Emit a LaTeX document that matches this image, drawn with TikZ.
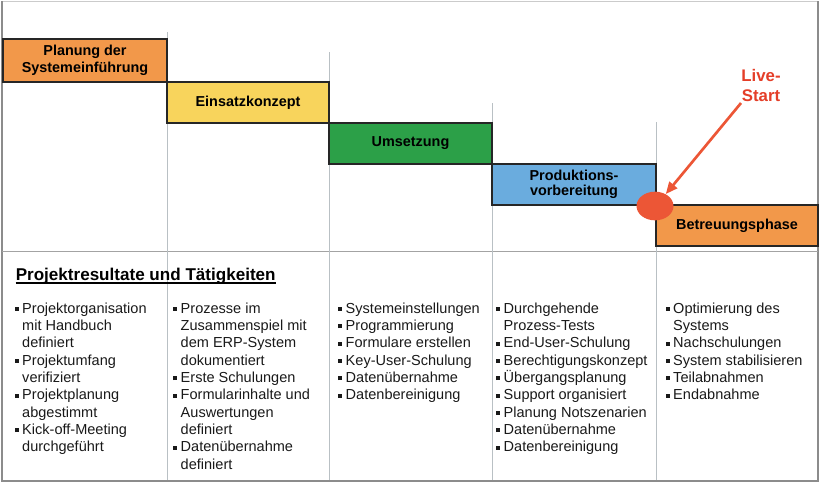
\documentclass[tikz,border=0pt]{standalone}
\usepackage{fontspec}
\setmainfont{Liberation Sans}
\usetikzlibrary{shapes.geometric,arrows.meta}

\definecolor{phOrange}{RGB}{242,152,74}
\definecolor{phYellow}{RGB}{248,212,92}
\definecolor{phGreen}{RGB}{44,160,72}
\definecolor{phBlue}{RGB}{106,172,222}
\definecolor{liveRed}{RGB}{236,86,54}
\definecolor{liveText}{RGB}{228,62,40}
\definecolor{frameGray}{RGB}{140,140,140}
\definecolor{gridGray}{RGB}{185,192,196}

% square bullet and matching hanging indent
\newcommand\itm{\makebox[5.6pt][l]{\rule[0.17em]{0.26em}{0.26em}}}
\newcommand\ind{\hspace*{5.6pt}}

\begin{document}
\begin{tikzpicture}[x=0.75pt,y=-0.75pt,
  phase/.style={draw=black!85, line width=2pt, inner sep=0pt, align=center,
    font=\fontsize{10.8}{12.8}\selectfont\bfseries},
  gridline/.style={draw=gridGray, line width=0.7pt},
  bullets/.style={anchor=north west, inner sep=0pt, align=left,
    font=\fontsize{10.9}{13}\selectfont, text=black!90},
  livearrow/.style={draw=liveRed, line width=2pt,
    -{Triangle[length=9pt,width=7.5pt]}}]

\useasboundingbox (0,0) rectangle (820,487);

% outer frame and divider between phases and results
\draw[frameGray!45, line width=1pt] (2,1.5) -- (818,1.5);
\draw[frameGray, line width=2pt] (2,1) -- (2,481) -- (818,481) -- (818,1);
\draw[frameGray!80, line width=1.2pt] (2,251.5) -- (818,251.5);

% column separators
\draw[gridline] (167,32) -- (167,480);
\draw[gridline] (329.5,52) -- (329.5,480);
\draw[gridline] (492,103) -- (492,480);
\draw[gridline] (656,122) -- (656,480);

% phase boxes (staircase)
\node[phase, fill=phOrange, minimum width=123pt, minimum height=32.25pt] (p1) at (85,60.5) {\raisebox{-1.2pt}{\shortstack{Planung der\\Systemeinführung}}};
\node[phase, fill=phYellow, minimum width=121.5pt, minimum height=30.75pt] (p2) at (248,102.5) {Einsatzkonzept};
\node[phase, fill=phGreen, minimum width=122.25pt, minimum height=30.75pt] (p3) at (410.5,143.5) {Umsetzung};
\node[phase, fill=phBlue, minimum width=123pt, minimum height=30.75pt] (p4) at (574,184.5) {\raisebox{-0.8pt}{\shortstack{Produktions-\\vorbereitung}}};
\node[phase, fill=phOrange, minimum width=121.5pt, minimum height=30.75pt] (p5) at (737,225.5) {Betreuungsphase};

% go-live marker
\node[ellipse, fill=liveRed, inner sep=0pt, minimum width=27.75pt, minimum height=21.5pt] (live) at (655,206) {};
\node[align=center, inner sep=0pt, text=liveText,
  font=\fontsize{12.6}{15}\selectfont\bfseries] (livelbl) at (761,85) {Live-\\Start};
\coordinate (arrowstart) at (741,103);
\draw[livearrow] (arrowstart) -- (live.48);

% results heading
\node[anchor=base west, inner sep=0pt, font=\fontsize{12.8}{15}\selectfont\bfseries] (head) at (15.5,280) {Projektresultate und Tätigkeiten};
\draw[line width=1.2pt] ([yshift=-2.4pt]head.base west) -- ([yshift=-2.4pt]head.base east);

% results per phase
\node[bullets] (r1) at (14.5,302.5) {\itm Projektorganisation\\\ind mit Handbuch\\\ind definiert\\\itm Projektumfang\\\ind verifiziert\\\itm Projektplanung\\\ind abgestimmt\\\itm Kick-off-Meeting\\\ind durchgeführt};
\node[bullets] (r2) at (173,302.5) {\itm Prozesse im\\\ind Zusammenspiel mit\\\ind dem ERP-System\\\ind dokumentiert\\\itm Erste Schulungen\\\itm Formularinhalte und\\\ind Auswertungen\\\ind definiert\\\itm Datenübernahme\\\ind definiert};
\node[bullets] (r3) at (338,302.5) {\itm Systemeinstellungen\\\itm Programmierung\\\itm Formulare erstellen\\\itm Key-User-Schulung\\\itm Datenübernahme\\\itm Datenbereinigung};
\node[bullets] (r4) at (496,302.5) {\itm Durchgehende\\\ind Prozess-Tests\\\itm End-User-Schulung\\\itm Berechtigungskonzept\\\itm Übergangsplanung\\\itm Support organisiert\\\itm Planung Notszenarien\\\itm Datenübernahme\\\itm Datenbereinigung};
\node[bullets] (r5) at (665.5,302.5) {\itm Optimierung des\\\ind Systems\\\itm Nachschulungen\\\itm System stabilisieren\\\itm Teilabnahmen\\\itm Endabnahme};

\end{tikzpicture}
\end{document}
